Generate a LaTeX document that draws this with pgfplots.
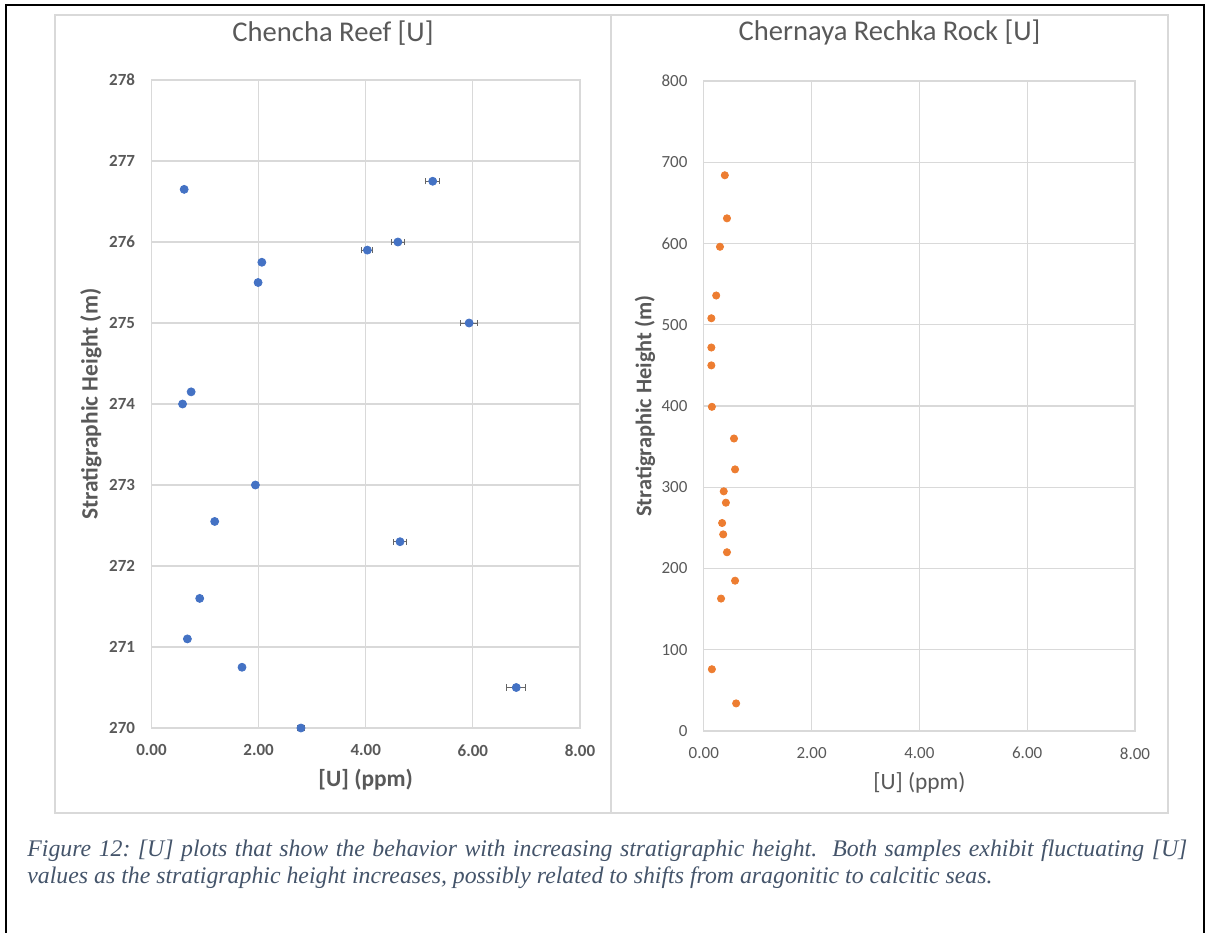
\documentclass[border=0pt]{standalone}
\usepackage{fontspec}
\setmainfont{Carlito}
\newfontfamily\capfont{Liberation Serif}
\usepackage{pgfplots}
\usepackage{pgfplotstable}
\pgfplotsset{compat=1.18}
\definecolor{xblue}{HTML}{4472C4}
\definecolor{xorange}{HTML}{ED7D31}
\definecolor{gridc}{HTML}{D9D9D9}
\definecolor{txt}{HTML}{595959}
\definecolor{capc}{HTML}{44546A}

% Chencha Reef, points without visible error bars
\pgfplotstableread{
x y
0.61 276.65
2.06 275.75
1.99 275.50
0.74 274.15
0.58 274.00
1.94 273.00
1.18 272.55
0.90 271.60
0.67 271.10
1.69 270.75
}\chenchaA
% Chencha Reef, points with error bars
\pgfplotstableread{
x y ex
5.25 276.75 0.13
4.60 276.00 0.12
4.03 275.90 0.10
5.93 275.00 0.16
4.64 272.30 0.12
6.81 270.50 0.18
2.79 270.00 0.06
}\chenchaB
% Chernaya Rechka Rock
\pgfplotstableread{
x y
0.39 684
0.43 631
0.30 596
0.23 536
0.14 508
0.14 472
0.14 450
0.15 399
0.56 360
0.58 322
0.37 295
0.41 281
0.34 256
0.36 242
0.43 220
0.58 185
0.32 163
0.15 76
0.60 34
}\chernaya

\pgfplotsset{
  excel/.style={
    scale only axis, clip=false,
    xmin=0, xmax=8, xtick={0,2,4,6,8},
    grid=major, major grid style={gridc, line width=0.6pt},
    axis line style={gridc, line width=0.6pt},
    tick style={draw=none},
    /pgf/number format/assume math mode=true,
    xticklabel style={anchor=north, inner sep=0pt, yshift=-8pt, text=txt,
      /pgf/number format/.cd, fixed, fixed zerofill, precision=2},
    yticklabel style={anchor=east, inner sep=0pt, xshift=-8pt, text=txt},
    title style={anchor=center, text=txt, font=\fontsize{14.3}{16}\selectfont},
    every axis x label/.style={anchor=center, text=txt},
    every axis y label/.style={anchor=center, rotate=90, text=txt},
  }
}

\begin{document}
\frenchspacing
\begin{tikzpicture}
\useasboundingbox (0,0) rectangle (603.5pt,-466.5pt);
% outer frame
\draw[black, line width=1.1pt] (3pt,-470pt) -- (3pt,-2.5pt) -- (602pt,-2.5pt) -- (602pt,-470pt);
% chart panels
\draw[gridc, line width=0.8pt] (27.5pt,-7.5pt) rectangle (305.5pt,-406.5pt);
\draw[gridc, line width=0.8pt] (305.5pt,-7.5pt) rectangle (584pt,-406.5pt);

\begin{axis}[excel,
  at={(75.75pt,-364pt)}, anchor=south west,
  width=214.25pt, height=324pt,
  ymin=270, ymax=278, ytick={270,271,...,278},
  ticklabel style={font=\bfseries\fontsize{8.5}{10}\selectfont},
  title={Chencha Reef [U]},
  title style={at={(axis description cs:0.4236,1.054)}},
  xlabel={[U] (ppm)},
  xlabel style={at={(axis description cs:0.5,-0.0802)}, font=\bfseries\fontsize{11.7}{14}\selectfont},
  ylabel={Stratigraphic Height (m)},
  ylabel style={at={(axis description cs:-0.1412,0.5)}, font=\bfseries\fontsize{11.7}{14}\selectfont},
]
\addplot[only marks, mark=*, mark size=2pt, color=xblue] table[x=x, y=y] {\chenchaA};
\addplot[only marks, mark=*, mark size=2pt, color=xblue,
  error bars/.cd, x dir=both, x explicit,
  error bar style={line width=0.5pt, color=black!60},
  error mark options={mark size=1.6pt, line width=0.5pt, black!60, rotate=90}]
  table[x=x, y=y, x error=ex] {\chenchaB};
\end{axis}

\begin{axis}[excel,
  at={(351.9pt,-365.5pt)}, anchor=south west,
  width=215.6pt, height=325pt,
  ymin=0, ymax=800, ytick={0,100,...,800},
  ticklabel style={font=\fontsize{8.5}{10}\selectfont},
  title={Chernaya Rechka Rock [U]},
  title style={at={(axis description cs:0.4307,1.0569)}},
  xlabel={[U] (ppm)},
  xlabel style={at={(axis description cs:0.5,-0.08)}, font=\fontsize{11.7}{14}\selectfont},
  ylabel={Stratigraphic Height (m)},
  ylabel style={at={(axis description cs:-0.1364,0.5)}, font=\bfseries\fontsize{11.2}{14}\selectfont},
]
\addplot[only marks, mark=*, mark size=1.8pt, color=xorange] table[x=x, y=y] {\chernaya};
\end{axis}

% caption
\node[anchor=base west, inner sep=0pt, text width=580pt, align=justify, text=capc,
  font={\capfont\itshape\fontsize{11.9}{13.5}\selectfont}] at (13.5pt,-428pt)
  {\frenchspacing Figure 12: [U] plots that show the behavior with increasing stratigraphic height.\ \ Both samples exhibit fluctuating [U]\linebreak values as the stratigraphic height increases, possibly related to shifts from aragonitic to calcitic seas.};
\end{tikzpicture}
\end{document}
